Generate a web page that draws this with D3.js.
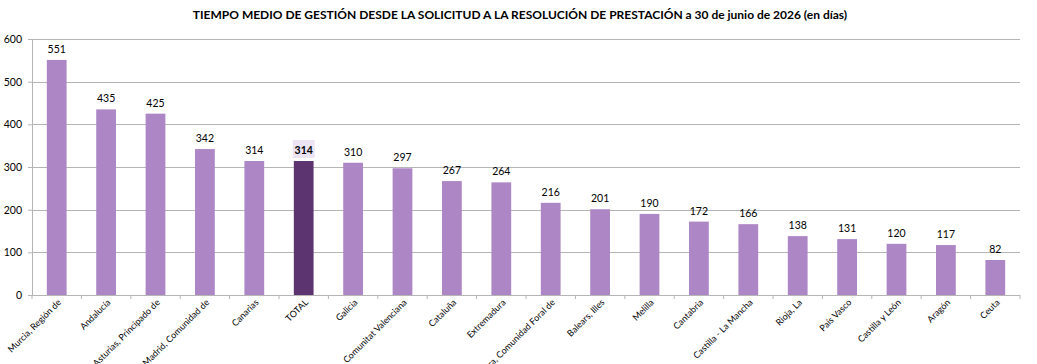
<!DOCTYPE html>
<html lang="es">
<head>
<meta charset="UTF-8">
<title>Tiempo medio de gestión</title>
<script src="https://cdn.jsdelivr.net/npm/d3@7"></script>
<style>
  body { margin: 0; background: #fff; }
  svg { font-family: Lato, "Open Sans", sans-serif; }
</style>
</head>
<body>
<svg id="svg"></svg>
<script>
var regions = ["Murcia, Región de", "Andalucía", "Asturias, Principado de", "Madrid, Comunidad de",
  "Canarias", "TOTAL", "Galicia", "Comunitat Valenciana", "Cataluña", "Extremadura",
  "Navarra, Comunidad Foral de", "Balears, Illes", "Melilla", "Cantabria", "Castilla - La Mancha",
  "Rioja, La", "País Vasco", "Castilla y León", "Aragón", "Ceuta"];
var days = [551, 435, 425, 342, 314, 314, 310, 297, 267, 264, 216, 201, 190, 172, 166, 138, 131, 120, 117, 82];
var yTicks = [0, 100, 200, 300, 400, 500, 600];

var w = 1037, h = 364;
var m = { left: 32, right: 1020, top: 39, bottom: 295 };
var svg = d3.select("#svg").attr("width", w).attr("height", h);

var x = d3.scaleBand().domain(regions).range([m.left, m.right]).paddingInner(0.6).paddingOuter(0.3);
var y = d3.scaleLinear().domain([0, 600]).range([m.bottom, m.top]);

svg.append("text")
  .attr("x", 520).attr("y", 19)
  .attr("text-anchor", "middle")
  .attr("font-weight", "bold").attr("font-size", 12)
  .text("TIEMPO MEDIO DE GESTIÓN DESDE LA SOLICITUD A LA RESOLUCIÓN DE PRESTACIÓN a 30 de junio de 2026 (en días)");

// gridlines
svg.append("g").selectAll("line").data(yTicks.slice(1)).enter().append("line")
  .attr("x1", m.left).attr("x2", m.right)
  .attr("y1", function(d) { return Math.round(y(d)) + 0.5; })
  .attr("y2", function(d) { return Math.round(y(d)) + 0.5; })
  .attr("stroke", "#b5b5b5").attr("stroke-width", 1);

var yAxis = svg.append("g").attr("transform", "translate(" + m.left + ",0)")
  .call(d3.axisLeft(y).tickValues(yTicks).tickSize(4).tickPadding(6));
yAxis.select(".domain").attr("stroke", "#b5b5b5");
yAxis.selectAll("line").attr("stroke", "#b5b5b5");
yAxis.selectAll("text").attr("font-size", 10.5).attr("fill", "#000").attr("font-family", "Lato, sans-serif");

// bars
svg.append("g").selectAll("rect").data(regions).enter().append("rect")
  .attr("x", function(d) { return x(d); })
  .attr("width", x.bandwidth())
  .attr("y", function(d, i) { return y(days[i]); })
  .attr("height", function(d, i) { return m.bottom - y(days[i]); })
  .attr("fill", function(d) { return d === "TOTAL" ? "#5c3470" : "#ad86c6"; });

// x axis
var step = x.step();
var x0 = x(regions[0]) + x.bandwidth() / 2 - step / 2;
var xg = svg.append("g");
xg.append("line").attr("x1", m.left).attr("x2", m.right).attr("y1", m.bottom + 0.5).attr("y2", m.bottom + 0.5)
  .attr("stroke", "#b5b5b5");
xg.selectAll("line.tk").data(d3.range(regions.length + 1)).enter().append("line")
  .attr("class", "tk")
  .attr("x1", function(i) { return x0 + i * step; })
  .attr("x2", function(i) { return x0 + i * step; })
  .attr("y1", m.bottom).attr("y2", m.bottom + 4)
  .attr("stroke", "#b5b5b5");

xg.selectAll("text").data(regions).enter().append("text")
  .attr("transform", function(d) {
    return "translate(" + (x(d) + x.bandwidth() / 2 + 5) + "," + (m.bottom + 8) + ") rotate(-45)";
  })
  .attr("text-anchor", "end")
  .attr("font-size", 9)
  .text(function(d) { return d; });

// value labels
var lbl = svg.append("g").selectAll("g").data(regions).enter().append("g");
lbl.filter(function(d) { return d === "TOTAL"; }).append("rect")
  .attr("x", function(d) { return x(d) + x.bandwidth() / 2 - 11; })
  .attr("y", y(314) - 21)
  .attr("width", 22).attr("height", 18)
  .attr("fill", "#ece4f3");
lbl.append("text")
  .attr("x", function(d) { return x(d) + x.bandwidth() / 2; })
  .attr("y", function(d, i) { return y(days[i]) - 7; })
  .attr("text-anchor", "middle")
  .attr("font-size", 10.5)
  .attr("font-weight", function(d) { return d === "TOTAL" ? "bold" : "normal"; })
  .text(function(d, i) { return days[i]; });
</script>
</body>
</html>
